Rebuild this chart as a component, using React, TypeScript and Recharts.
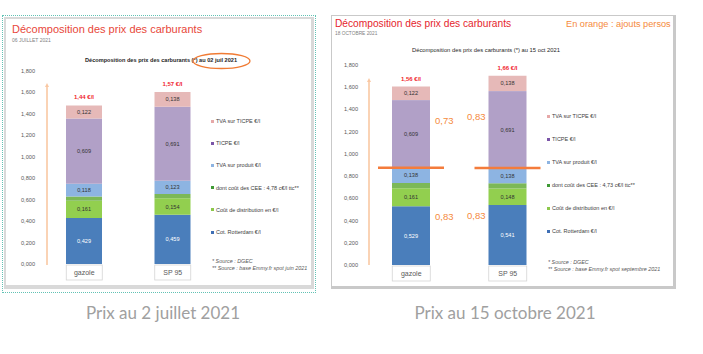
import React from "react";
import { BarChart, Bar, XAxis, YAxis, LabelList } from "recharts";

// catégories et valeurs (€/l)
const categories = ["gazole", "SP 95"];

const julyRotterdam = [0.429, 0.459];
const julyDistribution = [0.161, 0.154];
const julyCee = [0.04, 0.04];
const julyTvaProduit = [0.118, 0.123];
const julyTicpe = [0.609, 0.691];
const julyTvaTicpe = [0.122, 0.138];
const julyTotals = ["1,44 €/l", "1,57 €/l"];

const octRotterdam = [0.529, 0.541];
const octDistribution = [0.161, 0.148];
const octCee = [0.047, 0.047];
const octTvaProduit = [0.138, 0.138];
const octTicpe = [0.609, 0.691];
const octTvaTicpe = [0.122, 0.138];
const octTotals = ["1,56 €/l", "1,66 €/l"];
const octUpperNotes = ["0,73", "0,83"];
const octLowerNotes = ["0,83", "0,83"];

const yTicks = [0, 0.2, 0.4, 0.6, 0.8, 1.0, 1.2, 1.4, 1.6, 1.8];

const legendJuly = [
  "TVA sur TICPE €/l",
  "TICPE €/l",
  "TVA sur produit €/l",
  "dont coût des CEE : 4,78 c€/l ttc**",
  "Coût de distribution en €/l",
  "Cot. Rotterdam €/l",
];
const legendOct = [
  "TVA sur TICPE €/l",
  "TICPE €/l",
  "TVA sur produit €/l",
  "dont coût des CEE : 4,73 c€/l ttc**",
  "Coût de distribution en €/l",
  "Cot. Rotterdam €/l",
];
const legendColors = ["#e6a8a8", "#7b55a8", "#8db4e2", "#3f9a35", "#8cc84b", "#3f6fb5"];

const C = {
  blue: "#4a7ebb",
  green: "#92cf4f",
  cee: "#7cb857",
  lightBlue: "#8db4e2",
  purple: "#b1a0c7",
  pink: "#e6b9b8",
  orange: "#f47c3c",
  arrow: "#f9c8a3",
};

const SLIDE_FONT = "'Liberation Sans', Arial, sans-serif";

const fmt = (v: number) => v.toFixed(3).replace(".", ",");

const julyData = categories.map((c, i) => ({
  name: c,
  rotterdam: julyRotterdam[i],
  distribution: julyDistribution[i],
  cee: julyCee[i],
  tvaProduit: julyTvaProduit[i],
  ticpe: julyTicpe[i],
  tvaTicpe: julyTvaTicpe[i],
  total: julyTotals[i],
}));

const octData = categories.map((c, i) => ({
  name: c,
  rotterdam: octRotterdam[i],
  distribution: octDistribution[i],
  cee: octCee[i],
  tvaProduit: octTvaProduit[i],
  ticpe: octTicpe[i],
  tvaTicpe: octTvaTicpe[i],
  total: octTotals[i],
  upperNote: octUpperNotes[i],
  lowerNote: octLowerNotes[i],
}));

const CategoryTick = ({ x, y, payload, w }: any) => (
  <g>
    <rect x={x - w / 2} y={y + 1} width={w} height={15} fill="#fff" stroke="#d4d4d4" strokeWidth={0.8} />
    <text x={x} y={y + 11} textAnchor="middle" fontSize={7} fill="#595959" fontFamily={SLIDE_FONT}>
      {payload.value}
    </text>
  </g>
);

const valueLabel = (color: string) => (props: any) => {
  const { x, y, width, height, value } = props;
  return (
    <text
      x={x + width / 2}
      y={y + height / 2 + 2}
      textAnchor="middle"
      fontSize={5.6}
      fill={color}
      fontFamily={SLIDE_FONT}
    >
      {fmt(value)}
    </text>
  );
};

const totalLabel = (props: any) => {
  const { x, y, width, value } = props;
  return (
    <text x={x + width / 2} y={y - 6} textAnchor="middle" fontSize={6} fontWeight="bold" fill="#f0262e" fontFamily={SLIDE_FONT}>
      {value}
    </text>
  );
};

const upperNoteLabel = (props: any) => {
  const { x, y, width, height, value, index } = props;
  const left = index === 1;
  return (
    <text
      x={left ? x - 3 : x + width + 5}
      y={y + height / 2 - 10}
      textAnchor={left ? "end" : "start"}
      fontSize={9.5}
      fill="#f58a3c"
      fontFamily={SLIDE_FONT}
    >
      {value}
    </text>
  );
};

const lowerNoteLabel = (props: any) => {
  const { x, y, width, height, value, index } = props;
  const left = index === 1;
  return (
    <text
      x={left ? x - 3 : x + width + 5}
      y={y + height / 2 - 16}
      textAnchor={left ? "end" : "start"}
      fontSize={9.5}
      fill="#f58a3c"
      fontFamily={SLIDE_FONT}
    >
      {value}
    </text>
  );
};

// TICPE + trait orange à sa base
const TicpeWithLine = (props: any) => {
  const { x, y, width, height, fill } = props;
  return (
    <g>
      <rect x={x} y={y} width={width} height={height} fill={fill} />
      <line x1={x - 14} x2={x + width + 14} y1={y + height} y2={y + height} stroke={C.orange} strokeWidth={2.5} />
    </g>
  );
};

function Legend({ labels, left, top, gap, fontSize }: any) {
  return (
    <div style={{ position: "absolute", left, top, fontFamily: SLIDE_FONT, fontSize, color: "#404040" }}>
      {labels.map((l: string, i: number) => (
        <div key={l} style={{ height: gap, display: "flex", alignItems: "center", whiteSpace: "nowrap" }}>
          <span style={{ width: 3, height: 3, background: legendColors[i], marginRight: 2, display: "inline-block" }} />
          {l}
        </div>
      ))}
    </div>
  );
}

function Arrow({ x, y1, y2 }: any) {
  return (
    <svg style={{ position: "absolute", left: 0, top: 0 }} width={703} height={354}>
      <line x1={x} x2={x} y1={y1} y2={y2 + 3} stroke={C.arrow} strokeWidth={1.6} />
      <polygon points={`${x - 2},${y2 + 4} ${x + 2},${y2 + 4} ${x},${y2}`} fill={C.arrow} />
    </svg>
  );
}

function Stack({ data, width, height, margin, yWidth, barSize, oct }: any) {
  return (
    <BarChart width={width} height={height} data={data} margin={margin} barCategoryGap={0}>
      <XAxis
        dataKey="name"
        axisLine={false}
        tickLine={false}
        tickSize={0}
        tickMargin={0}
        height={20}
        interval={0}
        tick={(p: any) => <CategoryTick {...p} w={barSize} />}
      />
      <YAxis
        domain={[0, 1.8]}
        ticks={yTicks}
        axisLine={false}
        tickLine={false}
        tickSize={0}
        tickMargin={5}
        width={yWidth}
        tickFormatter={fmt}
        tick={{ fontSize: 5.6, fill: "#595959", fontFamily: SLIDE_FONT }}
      />
      <Bar dataKey="rotterdam" stackId="a" fill={C.blue} barSize={barSize} isAnimationActive={false}>
        <LabelList dataKey="rotterdam" content={valueLabel("#ffffff")} />
        {oct && <LabelList dataKey="lowerNote" content={lowerNoteLabel} />}
      </Bar>
      <Bar dataKey="distribution" stackId="a" fill={C.green} barSize={barSize} isAnimationActive={false}>
        <LabelList dataKey="distribution" content={valueLabel("#333333")} />
      </Bar>
      <Bar dataKey="cee" stackId="a" fill={C.cee} barSize={barSize} isAnimationActive={false} />
      <Bar dataKey="tvaProduit" stackId="a" fill={C.lightBlue} barSize={barSize} isAnimationActive={false}>
        <LabelList dataKey="tvaProduit" content={valueLabel("#333333")} />
      </Bar>
      <Bar
        dataKey="ticpe"
        stackId="a"
        fill={C.purple}
        barSize={barSize}
        isAnimationActive={false}
        shape={oct ? TicpeWithLine : undefined}
      >
        <LabelList dataKey="ticpe" content={valueLabel("#333333")} />
        {oct && <LabelList dataKey="upperNote" content={upperNoteLabel} />}
      </Bar>
      <Bar dataKey="tvaTicpe" stackId="a" fill={C.pink} barSize={barSize} isAnimationActive={false}>
        <LabelList dataKey="tvaTicpe" content={valueLabel("#333333")} />
        <LabelList dataKey="total" content={totalLabel} />
      </Bar>
    </BarChart>
  );
}

const abs = (left: number, top: number, extra: any = {}) => ({
  position: "absolute" as const,
  left,
  top,
  whiteSpace: "nowrap" as const,
  lineHeight: 1,
  ...extra,
});

export default function App() {
  return (
    <div style={{ position: "absolute", left: 0, top: 0, width: 703, height: 354, background: "#fff", overflow: "hidden" }}>
      {/* panneau gauche */}
      <div style={{ position: "absolute", left: 2, top: 15, width: 312, height: 276, border: "1px dotted #62c2b4" }} />
      <div
        style={{
          position: "absolute",
          left: 4,
          top: 17,
          width: 305,
          height: 266,
          borderStyle: "solid",
          borderColor: "#d9d9d9",
          borderWidth: "2px 3px 4px 2px",
        }}
      />
      <div style={abs(12, 24, { fontFamily: SLIDE_FONT, fontSize: 11, color: "#e8473a" })}>
        Décomposition des prix des carburants
      </div>
      <div style={abs(12, 38, { fontFamily: SLIDE_FONT, fontSize: 5, color: "#7f7f7f" })}>06 JUILLET 2021</div>
      <div style={abs(85, 58, { fontFamily: SLIDE_FONT, fontSize: 5.6, color: "#262626", fontWeight: 600 })}>
        Décomposition des prix des carburants (*) au 02 juil 2021
      </div>
      <svg style={{ position: "absolute", left: 0, top: 0 }} width={330} height={80}>
        <ellipse cx={221.5} cy={61} rx={28.5} ry={7.5} fill="none" stroke="#f07b34" strokeWidth={1.3} />
      </svg>
      <div style={{ position: "absolute", left: 0, top: 0 }}>
        <Stack
          data={julyData}
          width={230}
          height={300}
          margin={{ top: 71, right: 13, bottom: 16, left: 0 }}
          yWidth={40}
          barSize={36}
          oct={false}
        />
      </div>
      <Arrow x={47} y1={265} y2={83} />
      <Legend labels={legendJuly} left={211} top={110} gap={22.2} fontSize={5.5} />
      <div style={abs(212, 259, { fontFamily: SLIDE_FONT, fontSize: 5.4, color: "#595959", fontStyle: "italic" })}>
        * Source : DGEC
      </div>
      <div style={abs(212, 266, { fontFamily: SLIDE_FONT, fontSize: 5.4, color: "#595959", fontStyle: "italic" })}>
        ** Source : base Emmy.fr spot juin 2021
      </div>

      {/* panneau droit */}
      <div
        style={{
          position: "absolute",
          left: 331,
          top: 15,
          width: 341,
          height: 270,
          borderStyle: "solid",
          borderColor: "#c9c9c9",
          borderWidth: "1px 3px 3px 1px",
        }}
      />
      <div style={abs(335, 19, { fontFamily: SLIDE_FONT, fontSize: 10.2, color: "#e5252d" })}>
        Décomposition des prix des carburants
      </div>
      <div style={abs(566, 20, { fontFamily: SLIDE_FONT, fontSize: 9.2, color: "#f58a3c" })}>
        En orange : ajouts persos
      </div>
      <div style={abs(335, 32, { fontFamily: SLIDE_FONT, fontSize: 4.8, color: "#7f7f7f" })}>18 OCTOBRE 2021</div>
      <div style={abs(412, 48, { fontFamily: SLIDE_FONT, fontSize: 5.8, color: "#262626" })}>
        Décomposition des prix des carburants (*) au 15 oct 2021
      </div>
      <div style={{ position: "absolute", left: 320, top: 0 }}>
        <Stack
          data={octData}
          width={250}
          height={300}
          margin={{ top: 65, right: 14, bottom: 15, left: 0 }}
          yWidth={43}
          barSize={38}
          oct={true}
        />
      </div>
      <Arrow x={369} y1={265} y2={78} />
      <Legend labels={legendOct} left={547} top={104.5} gap={23} fontSize={5.5} />
      <div style={abs(548, 260, { fontFamily: SLIDE_FONT, fontSize: 5.4, color: "#595959", fontStyle: "italic" })}>
        * Source : DGEC
      </div>
      <div style={abs(548, 267, { fontFamily: SLIDE_FONT, fontSize: 5.4, color: "#595959", fontStyle: "italic" })}>
        ** Source : base Emmy.fr spot septembre 2021
      </div>

      {/* légendes sous les images */}
      <div style={abs(0, 304, { width: 326, textAlign: "center", fontFamily: "Lato, sans-serif", fontSize: 17, color: "#a0a0a0" })}>
        Prix au 2 juillet 2021
      </div>
      <div style={abs(330, 304, { width: 350, textAlign: "center", fontFamily: "Lato, sans-serif", fontSize: 17, color: "#a0a0a0" })}>
        Prix au 15 octobre 2021
      </div>
    </div>
  );
}
